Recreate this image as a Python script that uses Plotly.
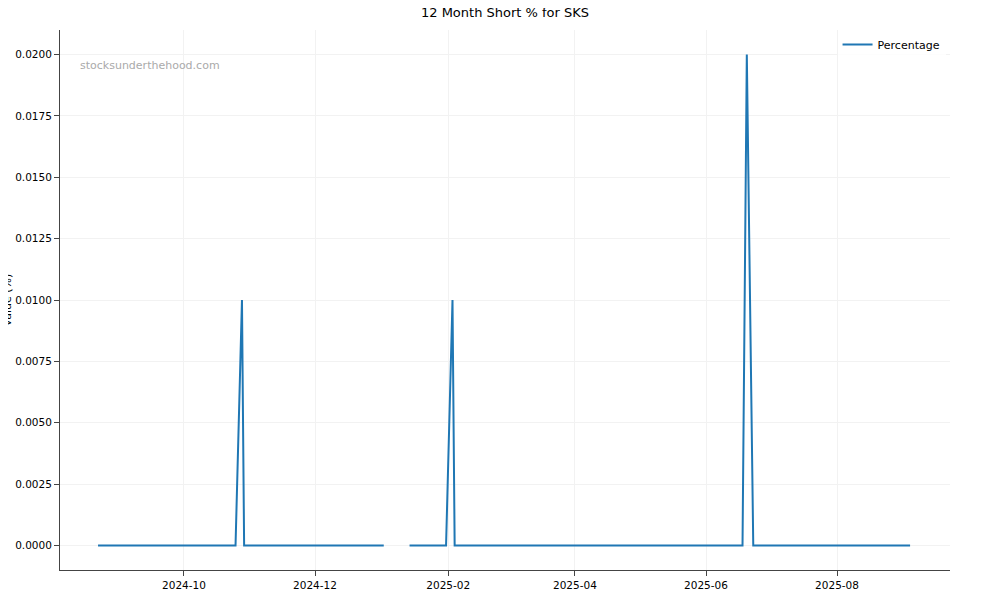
import plotly.graph_objects as go

# daily short % for SKS, only the points where the line changes direction
dates = [
    "2024-08-22", "2024-10-25", "2024-10-28", "2024-10-29", "2025-01-02",
    "2025-01-08",
    "2025-01-14", "2025-01-31", "2025-02-03", "2025-02-04",
    "2025-06-18", "2025-06-20", "2025-06-23", "2025-09-04",
]
short_pct = [
    0.0, 0.0, 0.01, 0.0, 0.0,
    None,
    0.0, 0.0, 0.01, 0.0,
    0.0, 0.02, 0.0, 0.0,
]

y_ticks = [0.0, 0.0025, 0.005, 0.0075, 0.01, 0.0125, 0.015, 0.0175, 0.02]

FONT = "DejaVu Sans, sans-serif"

fig = go.Figure()
fig.add_trace(
    go.Scatter(
        x=dates, y=short_pct, name="Percentage", mode="lines",
        line=dict(color="#1f77b4", width=2), connectgaps=False,
    )
)

# page body has an 8px margin, so the margins are shifted to compensate
fig.update_layout(
    width=1000, height=600,
    plot_bgcolor="white", paper_bgcolor="white",
    margin=dict(l=52, r=58, t=22, b=38),
    font=dict(family=FONT, size=10.5, color="black"),
    title=dict(text="12 Month Short % for SKS", x=0.497, xanchor="center",
               y=0.993, yanchor="middle", font=dict(size=13)),
    showlegend=True,
    legend=dict(x=0.995, y=1.0, xanchor="right", yanchor="top",
                bgcolor="rgba(255,255,255,0.8)", itemwidth=30,
                font=dict(size=11)),
)

fig.update_xaxes(
    range=["2024-08-04 07:00", "2025-09-22 14:00"],
    tick0="2024-10-01", dtick="M2", tickformat="%Y-%m",
    showline=True, linecolor="#444", linewidth=1,
    ticks="outside", ticklen=5, tickcolor="#444",
    showgrid=True, gridcolor="#f2f2f2", zeroline=False, automargin=False,
)
fig.update_yaxes(
    range=[-0.001, 0.021],
    tickvals=y_ticks, tickformat=".4f",
    showline=True, linecolor="#444", linewidth=1,
    ticks="outside", ticklen=5, tickcolor="#444",
    showgrid=True, gridcolor="#f2f2f2", zeroline=False, automargin=False,
)

# y title sits at the very left edge, partly cut off as in the original
fig.add_annotation(
    text="Value (%)", xref="paper", yref="paper", x=-0.059, y=0.5,
    xanchor="center", yanchor="middle", textangle=-90, showarrow=False,
    font=dict(size=11),
)
fig.add_annotation(
    text="stocksunderthehood.com", xref="paper", yref="paper", x=0.020, y=0.935,
    xanchor="left", yanchor="middle", showarrow=False,
    font=dict(size=11, color="#aaaaaa"),
)

fig.write_html("out.html")
